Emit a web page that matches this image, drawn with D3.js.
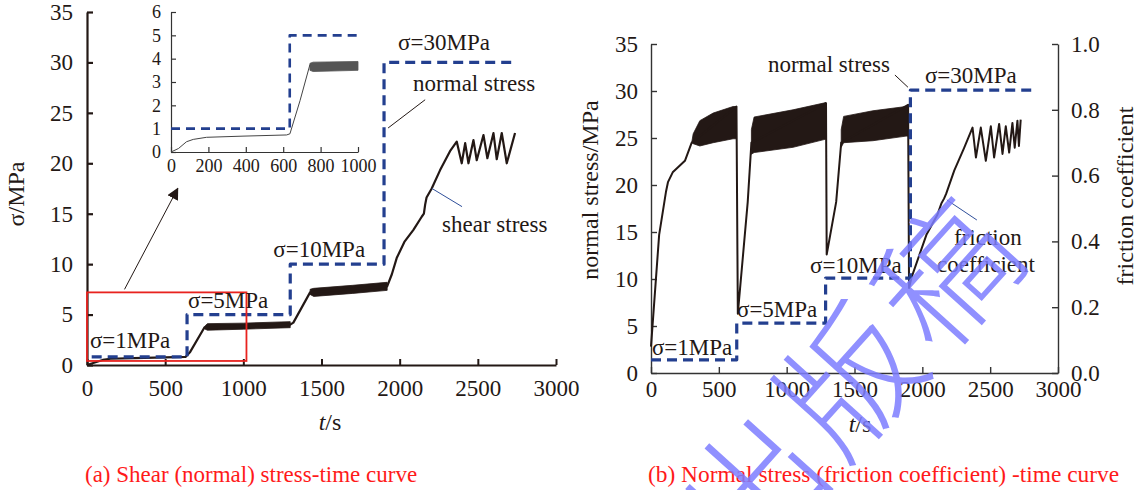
<!DOCTYPE html>
<html>
<head>
<meta charset="utf-8">
<script src="https://cdn.jsdelivr.net/npm/d3@7"></script>
<style>
body { margin: 0; background: #fff; }
text { font-family: "Liberation Serif", "Times New Roman", serif; fill: #231815; }
</style>
</head>
<body>
<svg></svg>
<script>
// ---------- (a) shear / normal stress vs time ----------
var aStepT = [30, 640, 640, 1300, 1300, 1900, 1900, 2740];
var aStepV = [0.8, 0.8, 5, 5, 10, 10, 30, 30];
var aShearT = [0, 40, 100, 150, 300, 500, 630, 660, 750, 1300, 1320, 1427, 1920, 1950, 1981, 2030, 2088, 2141, 2155, 2163, 2172, 2205, 2258, 2322, 2365,
               2397, 2419, 2440, 2472, 2493, 2536, 2561, 2600, 2621, 2653, 2685, 2738];
var aShearV = [0, 0.2, 0.5, 0.62, 0.68, 0.75, 0.8, 1.3, 3.7, 4.0, 4.2, 7.2, 7.8, 9.0, 10.6, 12.2, 13.4, 14.7, 15.0, 15.9, 16.6, 17.5, 19.3, 21.2, 22.15,
               20.0, 22.0, 20.0, 22.3, 20.3, 22.8, 20.5, 23.0, 20.4, 23.0, 20.0, 23.0];
// dense stick-slip bands (upper / lower envelope)
var aBand1T = [750, 770, 1000, 1300], aBand1Hi = [3.8, 4.1, 4.15, 4.3], aBand1Lo = [3.6, 3.45, 3.55, 3.7];
var aBand2T = [1427, 1450, 1700, 1920], aBand2Hi = [7.5, 7.6, 7.9, 8.2], aBand2Lo = [7.0, 6.8, 7.1, 7.4];
var aTicksX = [0, 500, 1000, 1500, 2000, 2500, 3000];
var aTicksY = [0, 5, 10, 15, 20, 25, 30, 35];

// inset of (a): first 1000 s
var inStepT = [0, 635, 635, 1000], inStepV = [1, 1, 5, 5];
var inShearT = [0, 40, 83, 119, 190, 385, 618, 636, 690, 743];
var inShearV = [0, 0.15, 0.44, 0.54, 0.63, 0.68, 0.73, 0.78, 2.2, 3.75];
var inBandT = [743, 760, 1000], inBandHi = [3.8, 3.85, 3.88], inBandLo = [3.5, 3.45, 3.5];
var inTicksX = [0, 200, 400, 600, 800, 1000];
var inTicksY = [0, 1, 2, 3, 4, 5, 6];

// ---------- (b) normal stress / friction coefficient vs time ----------
var bStepT = [0, 632, 632, 1287, 1287, 1912, 1912, 2838];
var bStepV = [1.4, 1.4, 5.3, 5.3, 10.1, 10.1, 30.1, 30.1];
var bFricT = [0, 60, 110, 125, 160, 250, 300, 630, 640, 713, 740, 1290, 1295, 1365, 1402, 1895, 1902, 1920, 2030, 2110, 2140, 2160, 2176,
              2235, 2309, 2370, 2395, 2431, 2468, 2505, 2529, 2566, 2591, 2615, 2640, 2664, 2681, 2701, 2712, 2725];
var bFricV = [0.08, 0.42, 0.55, 0.58, 0.61, 0.645, 0.70, 0.81, 0.18, 0.52, 0.70, 0.82, 0.36, 0.52, 0.70, 0.815, 0.258, 0.29, 0.42, 0.48,
              0.515, 0.53, 0.545, 0.615, 0.685, 0.746, 0.655, 0.746, 0.645, 0.75, 0.655, 0.757, 0.666, 0.75, 0.67, 0.76, 0.685, 0.767, 0.69, 0.77];
var bBand1T = [300, 311, 360, 458, 605, 630], bBand1Hi = [0.70, 0.727, 0.767, 0.79, 0.81, 0.81], bBand1Lo = [0.70, 0.697, 0.69, 0.70, 0.712, 0.712];
var bBand2T = [740, 760, 1047, 1290], bBand2Hi = [0.74, 0.778, 0.80, 0.822], bBand2Lo = [0.665, 0.67, 0.686, 0.711];
var bBand3T = [1402, 1420, 1635, 1880, 1895], bBand3Hi = [0.74, 0.78, 0.797, 0.81, 0.815], bBand3Lo = [0.686, 0.70, 0.706, 0.72, 0.72];
var bTicksY = [0, 5, 10, 15, 20, 25, 30, 35];
var bTicksF = [0, 0.2, 0.4, 0.6, 0.8, 1.0];

var ink = "#231815", blue = "#233f8f";
var FS = 23, TS = 23;   // annotation / tick font sizes

var svg = d3.select("svg").attr("width", 1141).attr("height", 490);
svg.append("rect").attr("width", 1141).attr("height", 490).attr("fill", "#fff");

var xA = d3.scaleLinear().domain([0, 3000]).range([87, 556]),
    yA = d3.scaleLinear().domain([0, 35]).range([365, 12]),
    xI = d3.scaleLinear().domain([0, 1000]).range([171, 358]),
    yI = d3.scaleLinear().domain([0, 6]).range([152, 12]),
    xB = d3.scaleLinear().domain([0, 3000]).range([651, 1058]),
    yB = d3.scaleLinear().domain([0, 35]).range([373, 44]),
    yF = d3.scaleLinear().domain([0, 1]).range([373, 44]);

var intFmt = d3.format("d");

function zip(t, v) { return t.map(function(d, i) { return [d, v[i]]; }); }
function band(t, hi, lo) { return t.map(function(d, i) { return [d, hi[i], lo[i]]; }); }

function drawLine(g, pts, x, y, color, w, dash) {
  g.append("path")
    .datum(pts)
    .attr("d", d3.line().x(d => x(d[0])).y(d => y(d[1])))
    .attr("fill", "none")
    .attr("stroke", color)
    .attr("stroke-width", w)
    .attr("stroke-linejoin", "round")
    .attr("stroke-dasharray", dash || null);
}
function drawBand(g, pts, x, y, color) {
  g.append("path")
    .datum(pts)
    .attr("d", d3.area().x(d => x(d[0])).y0(d => y(d[2])).y1(d => y(d[1])))
    .attr("fill", color)
    .attr("stroke", color)
    .attr("stroke-width", 0.8);
}
function styleAxis(g, fs, w, color) {
  g.select(".domain").attr("stroke", color).attr("stroke-width", w);
  g.selectAll(".tick line").attr("stroke", color).attr("stroke-width", w);
  g.selectAll(".tick text").attr("font-size", fs).attr("fill", "#231815")
    .style("font-family", '"Liberation Serif", "Times New Roman", serif');
}
function label(g, txt, x, y, fs, anchor, color) {
  return g.append("text").attr("x", x).attr("y", y).attr("font-size", fs)
    .attr("text-anchor", anchor || "start").style("fill", color || ink).text(txt);
}

// ================= panel (a) =================
var ga = svg.append("g");

ga.append("g").attr("transform", "translate(0," + yA(0) + ")")
  .call(d3.axisBottom(xA).tickValues(aTicksX).tickFormat(intFmt).tickSizeInner(-6).tickSizeOuter(0).tickPadding(15))
  .call(g => styleAxis(g, TS, 2, ink));
ga.append("g").attr("transform", "translate(" + xA(0) + ",0)")
  .call(d3.axisLeft(yA).tickValues(aTicksY).tickFormat(intFmt).tickSizeInner(-6).tickSizeOuter(0).tickPadding(14))
  .call(g => styleAxis(g, TS, 2.2, ink));

drawBand(ga, band(aBand1T, aBand1Hi, aBand1Lo), xA, yA, ink);
drawBand(ga, band(aBand2T, aBand2Hi, aBand2Lo), xA, yA, ink);
drawLine(ga, zip(aShearT, aShearV), xA, yA, ink, 2.2);
drawLine(ga, zip(aStepT, aStepV), xA, yA, blue, 3.2, "10,6");

// red zoom box + arrow to the inset
ga.append("rect")
  .attr("x", xA(0)).attr("y", yA(7.2))
  .attr("width", xA(1020) - xA(0)).attr("height", yA(0.4) - yA(7.2))
  .attr("fill", "none").attr("stroke", "#e8231f").attr("stroke-width", 1.8);
svg.append("defs").append("marker")
  .attr("id", "arr").attr("viewBox", "0 0 10 10").attr("refX", 9).attr("refY", 5)
  .attr("markerWidth", 12).attr("markerHeight", 12).attr("markerUnits", "userSpaceOnUse")
  .attr("orient", "auto")
  .append("path").attr("d", "M0,0L10,5L0,10z").attr("fill", ink);
ga.append("line")
  .attr("x1", xA(240)).attr("y1", yA(7.5)).attr("x2", xA(580)).attr("y2", yA(17.5))
  .attr("stroke", ink).attr("stroke-width", 1).attr("marker-end", "url(#arr)");

// annotations
label(ga, "σ=1MPa", xA(19), yA(1.7), FS);
label(ga, "σ=5MPa", xA(646), yA(5.65), FS);
label(ga, "σ=10MPa", xA(1779), yA(10.7), FS, "end");
label(ga, "σ=30MPa", xA(1990), yA(31.2), FS);
label(ga, "normal stress", xA(2086), yA(27.2), FS);
label(ga, "shear stress", xA(2271), yA(13.2), FS);
ga.append("line").attr("x1", xA(2163)).attr("y1", yA(26.3)).attr("x2", xA(1926)).attr("y2", yA(23.5))
  .attr("stroke", ink).attr("stroke-width", 1);
ga.append("line").attr("x1", xA(2399)).attr("y1", yA(15.7)).attr("x2", xA(2207)).attr("y2", yA(17.5))
  .attr("stroke", "#2f4f9a").attr("stroke-width", 1);

// axis titles
ga.append("text").attr("transform", "translate(24,194) rotate(-90)")
  .attr("text-anchor", "middle").attr("font-size", 24).text("σ/MPa");
var ta = ga.append("text").attr("x", 330).attr("y", 430).attr("text-anchor", "middle").attr("font-size", 24);
ta.append("tspan").attr("font-style", "italic").text("t");
ta.append("tspan").text("/s");

// inset
var gi = svg.append("g");
gi.append("g").attr("transform", "translate(0," + yI(0) + ")")
  .call(d3.axisBottom(xI).tickValues(inTicksX).tickFormat(intFmt).tickSizeInner(-5).tickSizeOuter(0).tickPadding(7))
  .call(g => styleAxis(g, 18, 1.2, "#333"));
gi.append("g").attr("transform", "translate(" + xI(0) + ",0)")
  .call(d3.axisLeft(yI).tickValues(inTicksY).tickFormat(intFmt).tickSizeInner(-5).tickSizeOuter(0).tickPadding(10))
  .call(g => styleAxis(g, 18, 1.2, "#333"));
drawBand(gi, band(inBandT, inBandHi, inBandLo), xI, yI, "#555");
drawLine(gi, zip(inShearT, inShearV), xI, yI, "#444", 1);
drawLine(gi, zip(inStepT, inStepV), xI, yI, blue, 2.6, "9,6");

// captions
label(svg, "(a) Shear (normal) stress-time curve", 85, 482, 23, "start", "#ff1a1a");
label(svg, "(b) Normal stress (friction coefficient) -time curve", 648, 482, 23.4, "start", "#ff1a1a");

// ================= panel (b) =================
var gb = svg.append("g");
gb.append("g").attr("transform", "translate(0," + yB(0) + ")")
  .call(d3.axisBottom(xB).tickValues(aTicksX).tickFormat(intFmt).tickSizeInner(-6).tickSizeOuter(0).tickPadding(8))
  .call(g => styleAxis(g, TS, 1.4, "#333"));
gb.append("g").attr("transform", "translate(" + xB(0) + ",0)")
  .call(d3.axisLeft(yB).tickValues(bTicksY).tickFormat(intFmt).tickSizeInner(-6).tickSizeOuter(0).tickPadding(13))
  .call(g => styleAxis(g, TS, 1.4, "#333"));
gb.append("g").attr("transform", "translate(" + xB(3000) + ",0)")
  .call(d3.axisRight(yF).tickValues(bTicksF).tickFormat(d3.format(".1f")).tickSizeInner(-6).tickSizeOuter(0).tickPadding(13))
  .call(g => styleAxis(g, TS, 1.4, "#333"));

drawBand(gb, band(bBand1T, bBand1Hi, bBand1Lo), xB, yF, ink);
drawBand(gb, band(bBand2T, bBand2Hi, bBand2Lo), xB, yF, ink);
drawBand(gb, band(bBand3T, bBand3Hi, bBand3Lo), xB, yF, ink);
drawLine(gb, zip(bFricT, bFricV), xB, yF, ink, 2);
drawLine(gb, zip(bStepT, bStepV), xB, yB, blue, 3.2, "10,6");

label(gb, "σ=1MPa", xB(7), yB(1.9), FS);
label(gb, "σ=5MPa", xB(634), yB(5.96), FS);
label(gb, "σ=10MPa", xB(1172), yB(10.64), FS);
label(gb, "σ=30MPa", xB(2019), yB(30.85), FS);
label(gb, "normal stress", xB(862), yB(32.0), FS);
gb.append("line").attr("x1", xB(1798)).attr("y1", yB(31.7)).attr("x2", xB(1894)).attr("y2", yB(30.4))
  .attr("stroke", ink).attr("stroke-width", 1);
label(gb, "friction", xB(2483), yF(0.389), FS, "middle");
label(gb, "coefficient", xB(2469), yF(0.307), FS, "middle");
gb.append("line").attr("x1", xB(2181)).attr("y1", yF(0.526)).attr("x2", xB(2402)).attr("y2", yF(0.465))
  .attr("stroke", "#2f4f9a").attr("stroke-width", 1);

gb.append("text").attr("transform", "translate(598,190) rotate(-90)")
  .attr("text-anchor", "middle").attr("font-size", 24).text("normal stress/MPa");
gb.append("text").attr("transform", "translate(1133,196) rotate(-90)")
  .attr("text-anchor", "middle").attr("font-size", 24).text("friction coefficient");
var tb = gb.append("text").attr("x", 860).attr("y", 432).attr("text-anchor", "middle").attr("font-size", 24);
tb.append("tspan").attr("font-style", "italic").text("t");
tb.append("tspan").text("/s");

// watermark
svg.append("text")
  .attr("transform", "translate(846,372) rotate(-48)")
  .attr("text-anchor", "middle").attr("dominant-baseline", "central")
  .attr("font-size", 136).attr("letter-spacing", 8)
  .attr("font-weight", 300)
  .style("font-family", '"Noto Sans CJK SC", sans-serif')
  .style("fill", "#7d7dff").attr("opacity", 0.85)
  .text("出版稿");
</script>
</body>
</html>
